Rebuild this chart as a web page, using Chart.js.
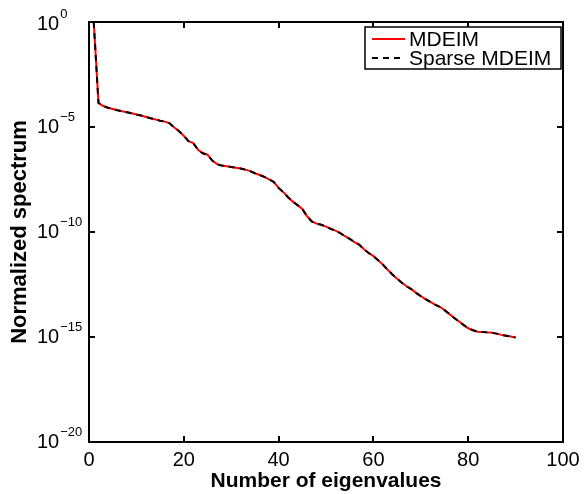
<!DOCTYPE html>
<html>
<head>
<meta charset="utf-8">
<script src="https://cdn.jsdelivr.net/npm/chart.js@4/dist/chart.umd.min.js"></script>
<style>
  html, body { margin: 0; padding: 0; background: #ffffff; }
  #wrap { width: 587px; height: 494px; position: relative; }
</style>
</head>
<body>
<div id="wrap"><canvas id="spectrum" width="587" height="494"></canvas></div>
<script>
// Normalized eigenvalue spectrum, eigenvalues 1..90
const mdeimValues = [
  1.0, 1.41e-4, 1.0e-4, 8.3e-5, 7.2e-5, 6.3e-5, 5.6e-5, 5.0e-5, 4.5e-5, 3.9e-5,
  3.5e-5, 3.0e-5, 2.6e-5, 2.3e-5, 2.0e-5, 1.8e-5, 1.5e-5, 9.5e-6, 6.3e-6, 3.8e-6,
  2.1e-6, 1.7e-6, 8.3e-7, 5.6e-7, 4.8e-7, 2.5e-7, 1.7e-7, 1.45e-7, 1.35e-7, 1.26e-7,
  1.15e-7, 1.05e-7, 9.3e-8, 7.9e-8, 6.3e-8, 5.2e-8, 4.2e-8, 3.2e-8, 2.4e-8, 1.26e-8,
  7.9e-9, 4.5e-9, 2.8e-9, 1.9e-9, 1.26e-9, 5.6e-10, 3.2e-10, 2.5e-10, 2.2e-10, 1.8e-10,
  1.4e-10, 1.17e-10, 8.9e-11, 6.3e-11, 4.7e-11, 3.3e-11, 2.5e-11, 1.5e-11, 1.0e-11, 7.1e-12,
  4.5e-12, 2.8e-12, 1.6e-12, 9.5e-13, 6.0e-13, 3.8e-13, 2.6e-13, 1.9e-13, 1.26e-13, 8.9e-14,
  6.3e-14, 4.7e-14, 3.5e-14, 2.75e-14, 1.9e-14, 1.26e-14, 8.3e-15, 5.6e-15, 3.8e-15, 2.6e-15,
  2.1e-15, 1.8e-15, 1.74e-15, 1.66e-15, 1.58e-15, 1.45e-15, 1.26e-15, 1.15e-15, 1.05e-15, 9.5e-16
];
// Sparse MDEIM reproduces the same spectrum
const sparseMdeimValues = mdeimValues.slice();
const eigenIndex = mdeimValues.map((_, i) => i + 1);

const xTicks = [0, 20, 40, 60, 80, 100];
const yTickExponents = [0, -5, -10, -15, -20];
const seriesNames = ['MDEIM', 'Sparse MDEIM'];

const FONT = "'Liberation Sans', Arial, Helvetica, sans-serif";

function toPoints(values) {
  return values.map((v, i) => ({ x: eigenIndex[i], y: v }));
}

// MATLAB-style box, inward ticks, superscript log labels and legend
const axesDecor = {
  id: 'axesDecor',
  afterDraw(chart) {
    const ctx = chart.ctx;
    const a = chart.chartArea;
    const xs = chart.scales.x;
    const ys = chart.scales.y;
    const tickLen = 5;
    ctx.save();
    ctx.strokeStyle = '#000';
    ctx.lineWidth = 2;
    ctx.lineCap = 'square';
    ctx.strokeRect(a.left, a.top, a.right - a.left, a.bottom - a.top);

    // x ticks (bottom and top)
    ctx.beginPath();
    xTicks.forEach(t => {
      const px = Math.round(xs.getPixelForValue(t));
      ctx.moveTo(px, a.bottom); ctx.lineTo(px, a.bottom - tickLen);
      ctx.moveTo(px, a.top); ctx.lineTo(px, a.top + tickLen);
    });
    // y ticks (left and right)
    yTickExponents.forEach(e => {
      const py = Math.round(ys.getPixelForValue(Math.pow(10, e)));
      ctx.moveTo(a.left, py); ctx.lineTo(a.left + tickLen, py);
      ctx.moveTo(a.right, py); ctx.lineTo(a.right - tickLen, py);
    });
    ctx.stroke();

    // x tick labels
    ctx.fillStyle = '#000';
    ctx.font = '20px ' + FONT;
    ctx.textAlign = 'center';
    ctx.textBaseline = 'middle';
    xTicks.forEach(t => {
      ctx.fillText(String(t), xs.getPixelForValue(t), a.bottom + 18);
    });

    // y tick labels: 10 with superscript exponent
    yTickExponents.forEach(e => {
      const py = ys.getPixelForValue(Math.pow(10, e));
      const cy = Math.min(Math.max(py, a.top + 2), a.bottom + 6);
      ctx.font = '20px ' + FONT;
      ctx.textAlign = 'left';
      ctx.textBaseline = 'middle';
      const baseX = 37;
      ctx.fillText('10', baseX, cy);
      const w = ctx.measureText('10').width;
      ctx.font = '13px ' + FONT;
      ctx.textBaseline = 'alphabetic';
      const expText = e === 0 ? '0' : '\u2212' + String(-e);
      ctx.fillText(expText, baseX + w + 1, cy - 6);
    });

    // axis titles
    ctx.font = 'bold 21px ' + FONT;
    ctx.textAlign = 'center';
    ctx.textBaseline = 'middle';
    ctx.fillText('Number of eigenvalues', (a.left + a.right) / 2, a.bottom + 39);
    ctx.save();
    ctx.font = 'bold 22px ' + FONT;
    ctx.translate(20, (a.top + a.bottom) / 2);
    ctx.rotate(-Math.PI / 2);
    ctx.fillText('Normalized spectrum', 0, 0);
    ctx.restore();

    // legend box
    const lx = 365, ly = 27, lw = 196, lh = 42;
    ctx.fillStyle = '#fff';
    ctx.fillRect(lx, ly, lw, lh);
    ctx.lineWidth = 1.5;
    ctx.strokeStyle = '#000';
    ctx.strokeRect(lx, ly, lw, lh);
    chart.data.datasets.forEach((ds, i) => {
      const ry = ly + 12 + i * 19;
      ctx.beginPath();
      ctx.strokeStyle = ds.borderColor;
      ctx.lineWidth = 2;
      ctx.lineCap = 'butt';
      ctx.setLineDash(ds.borderDash || []);
      ctx.moveTo(lx + 7, ry);
      ctx.lineTo(lx + 40, ry);
      ctx.stroke();
      ctx.setLineDash([]);
      ctx.fillStyle = '#000';
      ctx.font = '21px ' + FONT;
      ctx.textAlign = 'left';
      ctx.textBaseline = 'middle';
      ctx.fillText(ds.label, lx + 44, ry + 1);
    });
    ctx.restore();
  }
};

new Chart(document.getElementById('spectrum'), {
  type: 'line',
  data: {
    datasets: [
      {
        label: seriesNames[0],
        data: toPoints(mdeimValues),
        borderColor: '#ff0000',
        borderWidth: 2,
        pointRadius: 0,
        tension: 0,
        fill: false,
        order: 1
      },
      {
        label: seriesNames[1],
        data: toPoints(sparseMdeimValues),
        borderColor: '#000000',
        borderWidth: 2,
        borderDash: [6, 5],
        pointRadius: 0,
        tension: 0,
        fill: false,
        order: 0
      }
    ]
  },
  options: {
    responsive: false,
    animation: false,
    devicePixelRatio: 1,
    layout: { padding: { left: 89, top: 22, right: 24, bottom: 52 } },
    plugins: { legend: { display: false }, tooltip: { enabled: false } },
    scales: {
      x: {
        type: 'linear', min: 0, max: 100,
        grid: { display: false }, border: { display: false },
        ticks: { display: false },
        afterFit(scale) { scale.height = 0; }
      },
      y: {
        type: 'logarithmic', min: 1e-20, max: 1,
        grid: { display: false }, border: { display: false },
        ticks: { display: false },
        afterFit(scale) { scale.width = 0; }
      }
    }
  },
  plugins: [axesDecor]
});
</script>
</body>
</html>
